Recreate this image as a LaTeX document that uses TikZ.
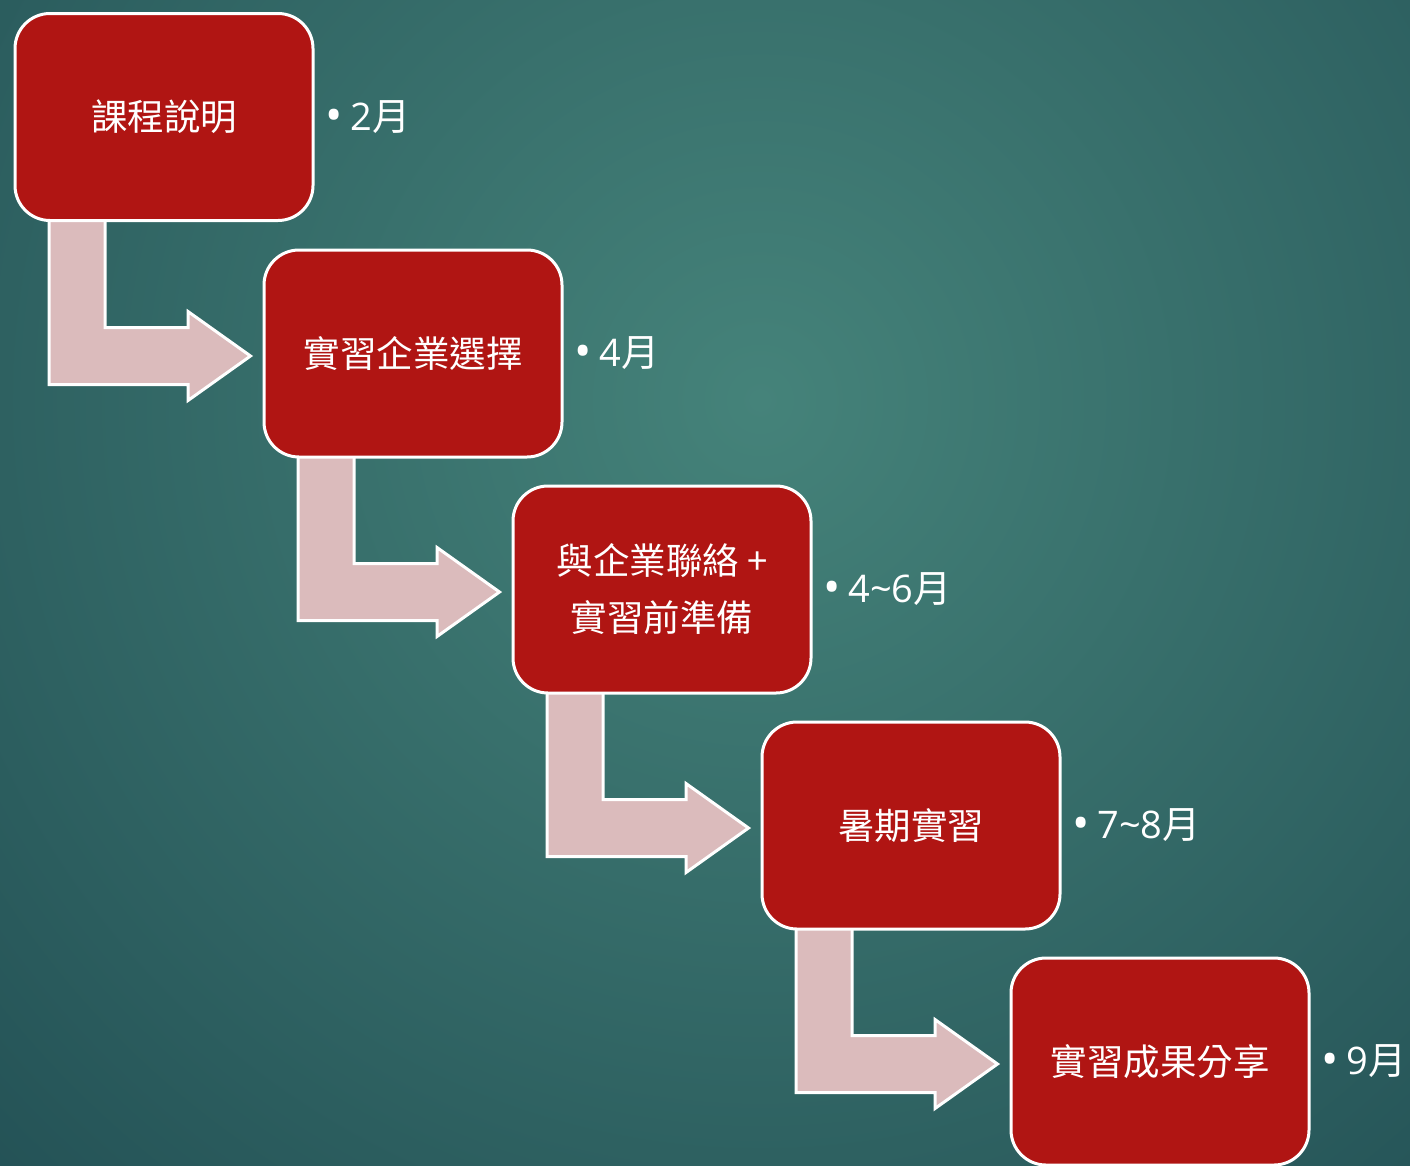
\documentclass[tikz,border=0pt]{standalone}
\usepackage{fontspec}
\newfontfamily\cjk{Noto Sans CJK TC}
\newfontfamily\latinf{Open Sans}
\usetikzlibrary{calc}
\pgfdeclarelayer{bg}
\pgfdeclarelayer{mid}
\pgfsetlayers{bg,mid,main}
\definecolor{boxred}{HTML}{B01513}
\definecolor{arrowpink}{HTML}{DBBBBC}
\definecolor{tealin}{HTML}{45837A}
\definecolor{tealout}{HTML}{1F4B51}
\newcommand\bendarrow[2]{%
  \begin{pgfonlayer}{mid}
  \draw[bentarrow] let \p1=(#1.south west), \p2=(#2.west) in
    (\x1+35.5pt,\y1+6pt) -- (\x1+91.5pt,\y1+6pt) -- (\x1+91.5pt,\y2+26pt)
    -- (\x2-74.5pt,\y2+26pt) -- (\x2-74.5pt,\y2+42pt) -- (\x2-12pt,\y2-2.5pt)
    -- (\x2-74.5pt,\y2-47pt) -- (\x2-74.5pt,\y2-31pt) -- (\x1+35.5pt,\y2-31pt) -- cycle;
  \end{pgfonlayer}}
\newcommand\bul{{\latinf\fontsize{46}{40}\selectfont\raisebox{-1pt}{•}}\hspace{8pt}}
\begin{document}
\begin{tikzpicture}[x=1pt,y=-1pt,
  stepbox/.style={draw=white, line width=3pt, fill=boxred, rounded corners=35pt,
    minimum width=298pt, minimum height=207pt, text=white,
    font=\cjk\fontsize{36.5}{57}\selectfont, align=center, inner sep=0pt},
  datelabel/.style={anchor=west, text=white, font=\cjk\fontsize{38}{40}\selectfont, inner sep=0pt},
  bentarrow/.style={draw=white, line width=3pt, fill=arrowpink, line join=miter}]
\useasboundingbox (0,0) rectangle (1410,1165);
\begin{pgfonlayer}{bg}
  \clip (0,0) rectangle (1410,1165);
  \shade[inner color=tealin, outer color=tealout] (760,400) circle (1250);
\end{pgfonlayer}

\node[stepbox] (s1) at (164,117) {課程說明};
\node[stepbox] (s2) at (413,353.5) {實習企業選擇};
\node[stepbox] (s3) at (662,589.5) {與企業聯絡 +\\實習前準備};
\node[stepbox] (s4) at (911,825.5) {暑期實習};
\node[stepbox] (s5) at (1160,1061.5) {實習成果分享};

\node[datelabel] (d1) at (325,117) {\bul{\latinf 2}月};
\node[datelabel] (d2) at (574,353.5) {\bul{\latinf 4}月};
\node[datelabel] (d3) at (823,589.5) {\bul{\latinf 4\textasciitilde 6}月};
\node[datelabel] (d4) at (1072,825.5) {\bul{\latinf 7\textasciitilde 8}月};
\node[datelabel] (d5) at (1321,1061.5) {\bul{\latinf 9}月};

\bendarrow{s1}{s2}
\bendarrow{s2}{s3}
\bendarrow{s3}{s4}
\bendarrow{s4}{s5}
\end{tikzpicture}
\end{document}
